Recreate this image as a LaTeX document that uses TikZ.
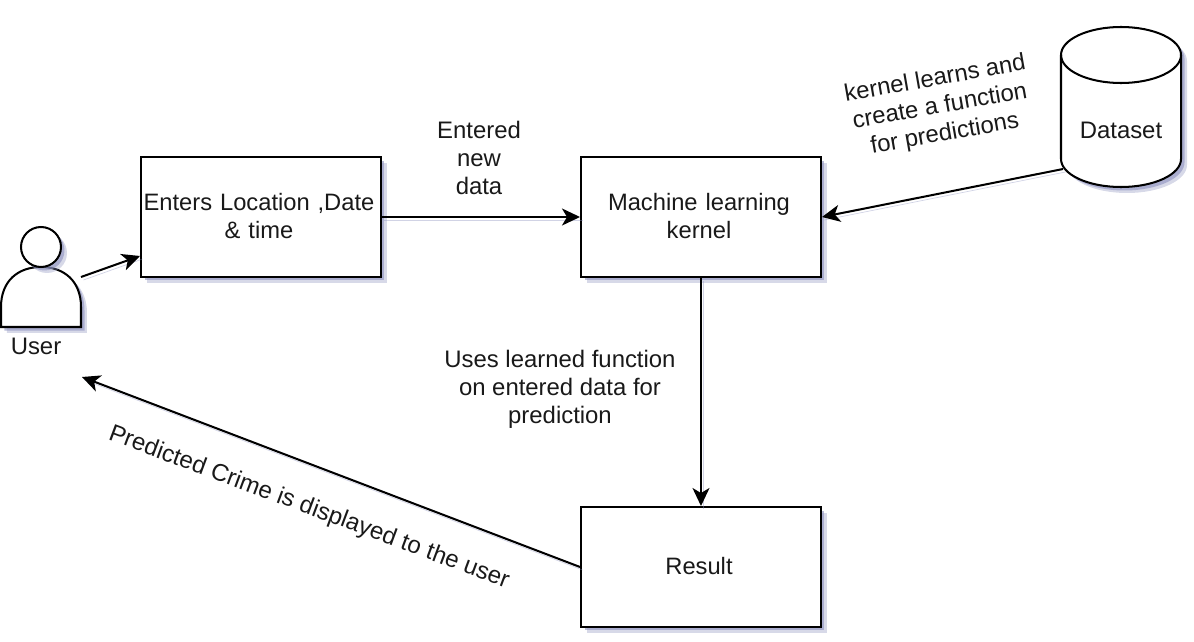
\documentclass[tikz,border=0pt]{standalone}
\usepackage{fontspec}
\setmainfont{Liberation Sans}
\usetikzlibrary{arrows.meta,shadows}

\definecolor{shadowblue}{RGB}{140,145,190}
\newcommand{\boxline}[1]{\raisebox{1pt}{#1\kern.08cm}}

\tikzset{
    softshadow/.style={
        drop shadow={shadow xshift=.12cm,shadow yshift=-.12cm,fill=shadowblue,opacity=.35},
        drop shadow={shadow xshift=.07cm,shadow yshift=-.07cm,fill=shadowblue,opacity=.6}},
    flowshape/.style={draw=black,line width=1.15pt,fill=white,softshadow},
    flowbox/.style={rectangle,flowshape,minimum width=4.8cm,minimum height=2.4cm,
        align=center,text width=4.7cm,inner sep=0pt,text=black!90,font=\fontsize{13.5}{15.9}\selectfont},
    flowtext/.style={align=center,inner sep=0pt,text=black!90},
    flowline/.style={line width=1.15pt,-{Stealth[length=.36cm,width=.34cm,inset=.1cm]},
        preaction={draw=shadowblue,opacity=.4,-,transform canvas={shift={(.05cm,-.06cm)}}}},
    every node/.append style={font=\fontsize{13.6}{15.9}\selectfont}
}

\begin{document}
\begin{tikzpicture}[x=0.02cm,y=-0.02cm]
\useasboundingbox (0,0) rectangle (1194,642);

% boxes
\begin{scope}[every node/.append style={flowbox}]
    \node (enters) at (261,217) {\boxline{Enters Location ,Date}\\\boxline{\& time}};
    \node (kernel) at (701,217) {\boxline{Machine learning}\\\boxline{kernel}};
    \node (result) at (701,567) {\boxline{Result}};
\end{scope}

% dataset
\draw [flowshape] (1061,55) arc [x radius=60,y radius=-28,start angle=180,end angle=0]
    -- (1181,159) arc [x radius=60,y radius=-28,start angle=360,end angle=180] -- cycle;
\draw [line width=1.15pt] (1061,55) arc [x radius=60,y radius=-28,start angle=180,end angle=360];
\node (dataset) [flowtext] at (1121,130) {Dataset};
\coordinate (datasetout) at (1063,169);

% user
\draw [flowshape] (1,327) -- (1,307) .. controls (1,281) and (18,267) .. (41,267)
    .. controls (64,267) and (81,281) .. (81,307) -- (81,327) -- cycle;
\node (userhead) [circle,flowshape,minimum size=.8cm,inner sep=0pt] at (41,247) {};
\node (userlabel) [flowtext] at (36,346) {User};
\coordinate (userout) at (81,277);
\coordinate (userin) at (82,377);

% connectors
\draw [flowline] (userout) -- ([yshift=-.78cm]enters.west);
\draw [flowline] (enters.east) -- (kernel.west);
\draw [flowline] (datasetout) -- (kernel.east);
\draw [flowline] (kernel.south) -- (result.north);
\draw [flowline] (result.west) -- (userin);

% labels
\node (newdata) [flowtext] at (479,158) {Entered\\new\\data};
\node (learns) [flowtext,rotate=10] at (940,107) {kernel learns and\\create a function\\for predictions};
\node (uses) [flowtext] at (560,389) {Uses learned function\\on entered data for\\prediction};
\node (predicted) [flowtext,rotate=-20.5,font=\fontsize{13.7}{15.9}\selectfont] at (309,508) {Predicted Crime is displayed to the user};
\end{tikzpicture}
\end{document}
